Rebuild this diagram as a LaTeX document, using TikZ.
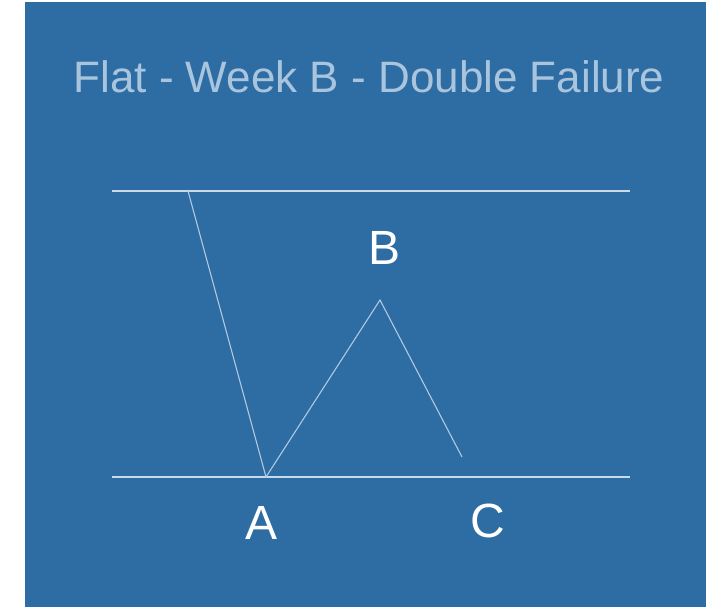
\documentclass[tikz,border=0pt]{standalone}
\usepackage{fontspec}
\setmainfont{Liberation Sans}
\usepackage{xcolor}
\usetikzlibrary{positioning}

\definecolor{panel}{HTML}{2E6CA4}
\definecolor{titletext}{HTML}{A9C4DD}
\definecolor{rule}{HTML}{C9DAEA}

\begin{document}
\begin{tikzpicture}[x=1pt, y=-1pt,
  level/.style={draw=rule, line width=1.6pt},
  wave/.style={draw=rule!85!panel, line width=1.1pt},
  lbl/.style={text=white, font=\fontsize{48}{48}\selectfont, inner sep=0pt}]
  \useasboundingbox (0,0) rectangle (706,607);
  \fill[white] (0,0) rectangle (706,607);
  \fill[panel] (25,2) rectangle (706,607);

  \node[text=titletext, font=\fontsize{44}{44}\selectfont, inner sep=0pt]
       (title) at (369,77) {Flat - Week B - Double Failure};

  % the two levels of the flat
  \coordinate (topL) at (112,191);  \coordinate (topR) at (630,191);
  \coordinate (botL) at (112,477);  \coordinate (botR) at (630,477);
  \draw[level] (topL) -- (topR);
  \draw[level] (botL) -- (botR);

  % the swing: start, A, B, C
  \coordinate (start) at (188,191);
  \coordinate (ptA) at (266,477);
  \coordinate (ptB) at (380,300);
  \coordinate (ptC) at (462,457);
  \draw[wave] (start) -- (ptA) -- (ptB) -- (ptC);

  \node[lbl] (labA) at (262,523) {A};
  \node[lbl] (labB) at (385,248) {B};
  \node[lbl] (labC) at (488,521) {C};
\end{tikzpicture}
\end{document}
